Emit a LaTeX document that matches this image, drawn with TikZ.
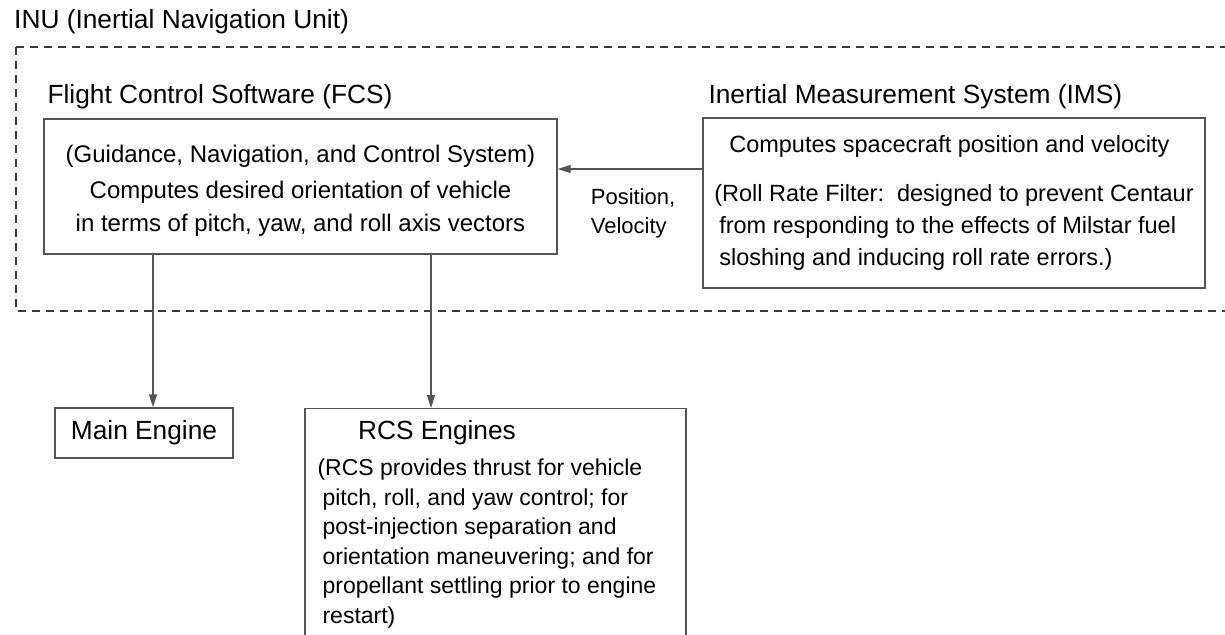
\documentclass[tikz,border=0pt]{standalone}
\usepackage{fontspec}
\setmainfont{Liberation Sans}
\usepackage{tikz}
\usetikzlibrary{arrows.meta, positioning, calc}
\definecolor{boxgray}{RGB}{85,85,85}
\definecolor{dashgray}{RGB}{60,60,60}
\tikzset{
  unitbox/.style={rectangle, draw=boxgray, line width=1.3pt, inner sep=0pt},
  titletext/.style={inner sep=0pt, font=\fontsize{26.3}{30}\selectfont},
  bodytext/.style={align=center, font=\fontsize{24}{33}\selectfont},
  imstext/.style={align=left, font=\fontsize{23.5}{32}\selectfont},
  rcsbody/.style={inner sep=0pt, align=left, font=\fontsize{23}{29.5}\selectfont},
  arrow/.style={-{Triangle[length=13pt, width=8pt]}, line width=1.3pt, color=boxgray},
  inuframe/.style={draw=dashgray, line width=1.3pt, dash pattern=on 8pt off 6pt},
}

\begin{document}
\begin{tikzpicture}[x=1pt, y=-1pt]
  \useasboundingbox (0,0) rectangle (1225,634);
  \draw[inuframe] (16,47) rectangle (1240,311);
  \node[titletext, anchor=base west] (inutitle) at (14,29) {INU (Inertial Navigation Unit)};

  \node[unitbox, bodytext, minimum width=513pt, minimum height=135pt] (fcs) at (300.5,186.5)
    {\rule{0pt}{26.5pt}(Guidance, Navigation, and Control System)\\[3pt] Computes desired orientation of vehicle\\ in terms of pitch, yaw, and roll axis vectors};
  \node[titletext, anchor=base west] (fcstitle) at ([xshift=4pt, yshift=15pt]fcs.north west) {Flight Control Software (FCS)};

  \node[unitbox, imstext, minimum width=502pt, minimum height=170pt] (ims) at (954,203)
    {\hspace*{15pt}Computes spacecraft position and velocity\\[17pt]
     (Roll Rate Filter:\ \ designed to prevent Centaur\\
     \hspace*{5pt}from responding to the effects of Milstar fuel\\
     \hspace*{5pt}sloshing and inducing roll rate errors.)};
  \node[titletext, anchor=base west] (imstitle) at ([xshift=6pt, yshift=14pt]ims.north west) {Inertial Measurement System (IMS)};

  \draw[arrow] ([yshift=34pt]ims.west) -- ([yshift=34pt]ims.west -| fcs.east);
  \node[inner sep=0pt, align=left, font=\fontsize{22}{29}\selectfont, right=33pt of fcs.east, yshift=-27pt] (posvel)
    {Position,\\Velocity};

  \node[unitbox, titletext, minimum width=178pt, minimum height=50pt] (main) at (144,433) {Main Engine};
  \node[unitbox, minimum width=381pt, minimum height=260pt, anchor=north] (rcs) at (495.5,408) {};
  \node[titletext] (rcstitle) at ([xshift=-58.5pt, yshift=-25pt]rcs.north) {RCS Engines};
  \node[rcsbody, anchor=north west] (rcstext) at ([xshift=13pt, yshift=-51pt]rcs.north west)
    {(RCS provides thrust for vehicle\\
     \hspace*{5pt}pitch, roll, and yaw control; for\\
     \hspace*{5pt}post-injection separation and\\
     \hspace*{5pt}orientation maneuvering; and for\\
     \hspace*{5pt}propellant settling prior to engine\\
     \hspace*{5pt}restart)};

  \coordinate (mainin) at ([xshift=9pt]main.north);
  \coordinate (rcsin) at ([xshift=-64.5pt]rcs.north);
  \draw[arrow] (fcs.south -| mainin) -- (mainin);
  \draw[arrow] (fcs.south -| rcsin) -- (rcsin);
\end{tikzpicture}
\end{document}
